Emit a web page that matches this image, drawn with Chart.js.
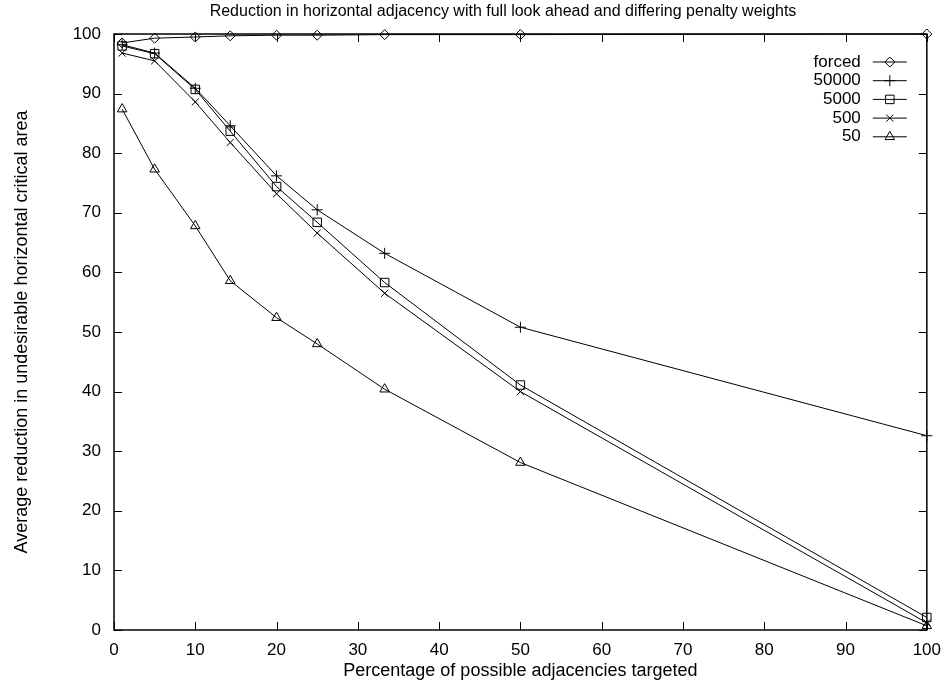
<!DOCTYPE html>
<html>
<head>
<meta charset="utf-8">
<script src="https://cdn.jsdelivr.net/npm/chart.js@4.4.0/dist/chart.umd.min.js"></script>
<style>
  html, body { margin: 0; padding: 0; background: #fff; }
  #wrap { width: 951px; height: 683px; }
</style>
</head>
<body>
<div id="wrap"><canvas id="adjChart"></canvas></div>
<script>
// Data
const targeted = [1, 5, 10, 14.3, 20, 25, 33.3, 50, 100];
const forced   = [98.5, 99.3, 99.5, 99.7, 99.8, 99.8, 99.9, 99.9, 100];
const w50000   = [98.2, 96.8, 90.9, 84.6, 76.2, 70.5, 63.2, 50.8, 32.6];
const w5000    = [98.0, 96.7, 90.7, 83.7, 74.4, 68.4, 58.3, 41.1, 2.1];
const w500     = [96.8, 95.5, 88.6, 81.8, 73.2, 66.6, 56.5, 40.0, 1.2];
const w50      = [87.4, 77.3, 67.8, 58.6, 52.4, 48.0, 40.4, 28.1, 0.7];
const seriesNames = ['forced', '50000', '5000', '500', '50'];
const markers = ['rectRot', 'cross', 'rect', 'crossRot', 'triangle'];
const markerSizes = [5, 5.5, 6, 5, 5.5];
const chartTitle = 'Reduction in horizontal adjacency with full look ahead and differing penalty weights';

const FONT = "'Liberation Sans', Arial, Helvetica, sans-serif";

function toPoints(vals) {
    return targeted.map((x, i) => ({ x: x, y: vals[i] }));
}

const allSeries = [forced, w50000, w5000, w500, w50];
const datasets = allSeries.map((vals, i) => ({
    label: seriesNames[i],
    data: toPoints(vals),
    borderColor: '#000',
    borderWidth: 1,
    backgroundColor: 'rgba(0,0,0,0)',
    pointStyle: markers[i],
    pointRadius: markerSizes[i],
    pointBorderColor: '#000',
    pointBorderWidth: 1,
    pointBackgroundColor: 'rgba(0,0,0,0)',
    tension: 0,
    clip: false
}));

// gnuplot style frame with inward ticks on all four sides, title and key
const framePlugin = {
    id: 'frame',
    afterDraw(chart) {
        const ctx = chart.ctx;
        const a = chart.chartArea;
        const xs = chart.scales.x, ys = chart.scales.y;
        const len = 8;
        ctx.save();
        ctx.strokeStyle = '#000';
        ctx.lineWidth = 1.5;
        ctx.strokeRect(a.left, a.top, a.right - a.left, a.bottom - a.top);
        ctx.lineWidth = 1;
        ctx.beginPath();
        xs.ticks.forEach(t => {
            const px = Math.round(xs.getPixelForValue(t.value)) + 0.5;
            ctx.moveTo(px, a.bottom); ctx.lineTo(px, a.bottom - len);
            ctx.moveTo(px, a.top); ctx.lineTo(px, a.top + len);
        });
        ys.ticks.forEach(t => {
            const py = Math.round(ys.getPixelForValue(t.value)) + 0.5;
            ctx.moveTo(a.left, py); ctx.lineTo(a.left + len, py);
            ctx.moveTo(a.right, py); ctx.lineTo(a.right - len, py);
        });
        ctx.stroke();

        // title
        ctx.fillStyle = '#000';
        ctx.font = '16px ' + FONT;
        ctx.textAlign = 'center';
        ctx.textBaseline = 'middle';
        ctx.fillText(chartTitle, 503, 12);

        // key
        ctx.font = '17px ' + FONT;
        ctx.textAlign = 'right';
        const textRight = a.right - 66;
        const lineL = a.right - 54, lineR = a.right - 20;
        chart.data.datasets.forEach((ds, i) => {
            const y = a.top + 28 + i * 18.7;
            ctx.fillStyle = '#000';
            ctx.fillText(ds.label, textRight, y);
            ctx.beginPath();
            ctx.moveTo(lineL, y); ctx.lineTo(lineR, y);
            ctx.stroke();
            ctx.fillStyle = 'rgba(0,0,0,0)';
            Chart.helpers.drawPoint(ctx, {
                pointStyle: ds.pointStyle, radius: ds.pointRadius, borderWidth: 1
            }, (lineL + lineR) / 2, y);
        });
        ctx.restore();
    }
};

const ctx = document.getElementById('adjChart').getContext('2d');
new Chart(ctx, {
    type: 'line',
    data: { datasets: datasets },
    plugins: [framePlugin],
    options: {
        responsive: true,
        maintainAspectRatio: false,
        animation: false,
        layout: { padding: { left: 0, right: 19, top: 34, bottom: 0 } },
        plugins: {
            legend: { display: false },
            tooltip: { enabled: false },
            title: { display: false }
        },
        scales: {
            x: {
                type: 'linear',
                min: 0,
                max: 100,
                grid: { display: false, drawTicks: false },
                border: { display: false },
                ticks: {
                    stepSize: 10,
                    color: '#000',
                    padding: 10,
                    maxRotation: 0,
                    font: { family: FONT, size: 17 }
                },
                title: {
                    display: true,
                    text: 'Percentage of possible adjacencies targeted',
                    color: '#000',
                    padding: { top: 0, bottom: 1 },
                    font: { family: FONT, size: 18 }
                },
                afterFit: function(scale) { scale.height = 53; }
            },
            y: {
                min: 0,
                max: 100,
                grid: { display: false, drawTicks: false },
                border: { display: false },
                ticks: {
                    stepSize: 10,
                    color: '#000',
                    padding: 13,
                    font: { family: FONT, size: 17 }
                },
                title: {
                    display: true,
                    text: 'Average reduction in undesirable horizontal critical area',
                    color: '#000',
                    padding: { top: 11, bottom: 0 },
                    font: { family: FONT, size: 18 }
                },
                afterFit: function(scale) { scale.width = 114; }
            }
        }
    }
});
</script>
</body>
</html>
